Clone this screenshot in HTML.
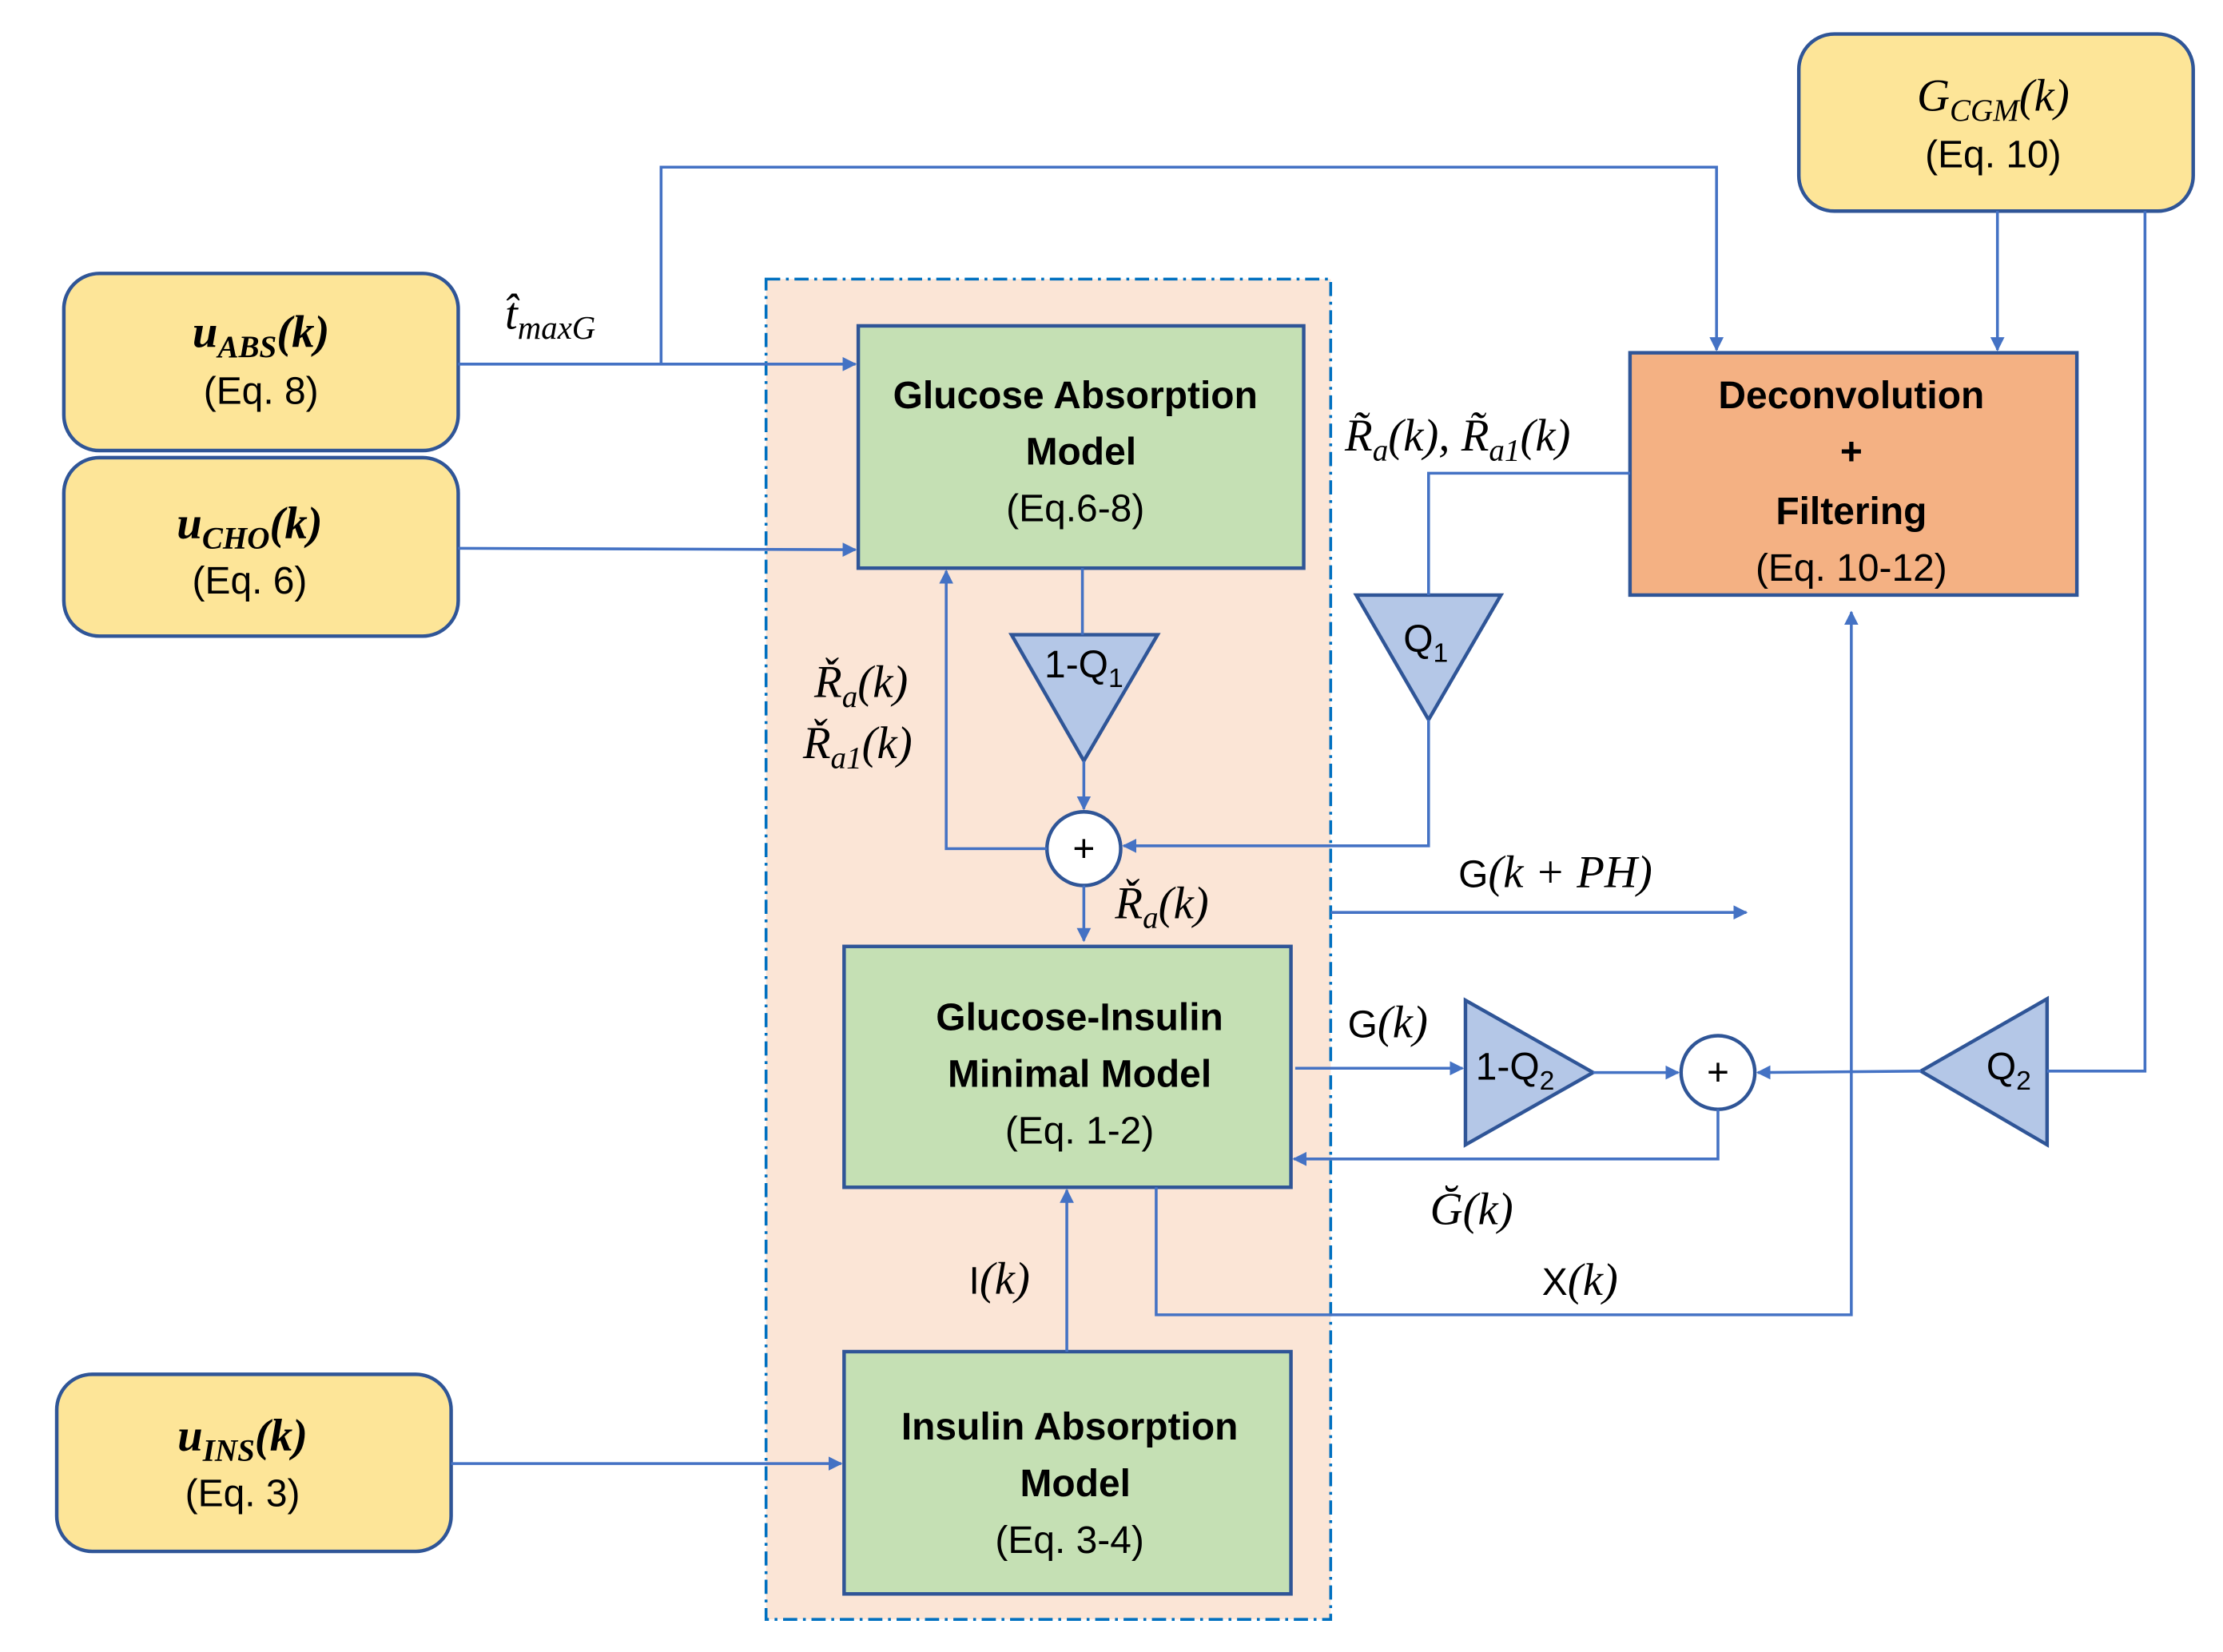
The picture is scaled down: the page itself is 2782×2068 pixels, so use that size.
<!DOCTYPE html>
<html><head><meta charset="utf-8"><style>
html,body{margin:0;padding:0;background:#fff;}
svg{display:block;}
.t{font-family:"Liberation Sans",sans-serif;font-size:27px;fill:#000;text-anchor:middle;}
.b{font-weight:bold;}
.m{font-family:"Liberation Serif",serif;font-style:italic;font-size:32px;fill:#000;}
.l{stroke:#4472C4;stroke-width:2;fill:none;}
</style></head><body>
<svg width="2782" height="2068" viewBox="0 0 1567 1166" preserveAspectRatio="none" xmlns="http://www.w3.org/2000/svg">
<defs><marker id="a" markerWidth="10" markerHeight="10" refX="9" refY="5" orient="auto" markerUnits="userSpaceOnUse"><path d="M0,0 L10,5 L0,10 z" fill="#4472C4"/></marker></defs>
<rect x="540" y="197" width="398" height="946" fill="#FBE5D6" stroke="#0070C0" stroke-width="2" stroke-dasharray="10,4,2,4"/>
<g fill="#FDE598" stroke="#2F5597" stroke-width="2.5">
<rect x="45" y="193" width="278" height="125" rx="25"/>
<rect x="45" y="323" width="278" height="126" rx="25"/>
<rect x="40" y="970" width="278" height="125" rx="25"/>
<rect x="1268" y="24" width="278" height="125" rx="25"/>
</g>
<g stroke="#2F5597" stroke-width="2.5">
<rect x="605" y="230" width="314" height="171" fill="#C5E0B4"/>
<rect x="595" y="668" width="315" height="170" fill="#C5E0B4"/>
<rect x="595" y="954" width="315" height="171" fill="#C5E0B4"/>
<rect x="1149" y="249" width="315" height="171" fill="#F4B183"/>
<g fill="#B4C7E7">
<path d="M713,448 L816,448 L764,537 z"/>
<path d="M956,420 L1058,420 L1007,508 z"/>
<path d="M1033,706 L1033,808 L1123,757 z"/>
<path d="M1443,705 L1443,808 L1354,756 z"/>
</g>
<circle cx="764" cy="599" r="26" fill="#fff"/>
<circle cx="1211" cy="757" r="26" fill="#fff"/>
</g>
<g class="l">
<path d="M323,257 L603,257" marker-end="url(#a)"/>
<path d="M466,257 L466,118 L1210,118 L1210,247" marker-end="url(#a)"/>
<path d="M323,387 L603,388" marker-end="url(#a)"/>
<path d="M1408,149 L1408,247" marker-end="url(#a)"/>
<path d="M1512,149 L1512,756 L1443,756"/>
<path d="M1354,756 L1239,757" marker-end="url(#a)"/>
<path d="M1123,757 L1183,757" marker-end="url(#a)"/>
<path d="M913,754 L1031,754" marker-end="url(#a)"/>
<path d="M1211,783 L1211,818 L912,818" marker-end="url(#a)"/>
<path d="M815,838 L815,928 L1305,928 L1305,432" marker-end="url(#a)"/>
<path d="M1149,334 L1007,334 L1007,420"/>
<path d="M1007,508 L1007,597 L792,597" marker-end="url(#a)"/>
<path d="M763,401 L763,448"/>
<path d="M764,537 L764,571" marker-end="url(#a)"/>
<path d="M738,599 L667,599 L667,403" marker-end="url(#a)"/>
<path d="M764,625 L764,664" marker-end="url(#a)"/>
<path d="M752,954 L752,840" marker-end="url(#a)"/>
<path d="M318,1033 L593,1033" marker-end="url(#a)"/>
<path d="M938,644 L1231,644" marker-end="url(#a)"/>
</g>
<text x="184" y="245" class="m" text-anchor="middle" font-weight="bold">u<tspan font-size="22" dy="7">ABS</tspan><tspan dy="-7">(k)</tspan></text>
<text x="184" y="285" class="t">(Eq. 8)</text>
<text x="176" y="380" class="m" text-anchor="middle" font-weight="bold">u<tspan font-size="22" dy="7">CHO</tspan><tspan dy="-7">(k)</tspan></text>
<text x="176" y="419" class="t">(Eq. 6)</text>
<text x="171" y="1024" class="m" text-anchor="middle" font-weight="bold">u<tspan font-size="22" dy="7">INS</tspan><tspan dy="-7">(k)</tspan></text>
<text x="171" y="1063" class="t">(Eq. 3)</text>
<text x="1405" y="78" class="m" text-anchor="middle">G<tspan font-size="22" dy="7">CGM</tspan><tspan dy="-7">(k)</tspan></text>
<text x="1405" y="118" class="t">(Eq. 10)</text>
<text x="758" y="288" class="t b">Glucose Absorption</text>
<text x="762" y="328" class="t b">Model</text>
<text x="758" y="368" class="t">(Eq.6-8)</text>
<text x="761" y="727" class="t b">Glucose-Insulin</text>
<text x="761" y="767" class="t b">Minimal Model</text>
<text x="761" y="807" class="t">(Eq. 1-2)</text>
<text x="754" y="1016" class="t b">Insulin Absorption</text>
<text x="758" y="1056" class="t b">Model</text>
<text x="754" y="1096" class="t">(Eq. 3-4)</text>
<text x="1305" y="288" class="t b">Deconvolution</text>
<text x="1305" y="328" class="t b">+</text>
<text x="1305" y="370" class="t b">Filtering</text>
<text x="1305" y="410" class="t">(Eq. 10-12)</text>
<text x="764" y="478" class="t" font-size="29">1-Q<tspan font-size="19" dy="7">1</tspan></text>
<text x="1005" y="460" class="t" font-size="29">Q<tspan font-size="19" dy="7">1</tspan></text>
<text x="1068" y="762" class="t" font-size="29">1-Q<tspan font-size="19" dy="7">2</tspan></text>
<text x="1416" y="762" class="t" font-size="29">Q<tspan font-size="19" dy="7">2</tspan></text>
<text x="764" y="608" class="t" font-size="24">+</text>
<text x="1211" y="766" class="t" font-size="24">+</text>
<text x="356" y="232" class="m">t̂<tspan font-size="23" dy="7">maxG</tspan></text>
<text x="948" y="318" class="m">R̃<tspan font-size="22" dy="7">a</tspan><tspan dy="-7">(k), R̃</tspan><tspan font-size="22" dy="7">a1</tspan><tspan dy="-7">(k)</tspan></text>
<text x="574" y="492" class="m">Ř<tspan font-size="22" dy="7">a</tspan><tspan dy="-7">(k)</tspan></text>
<text x="566" y="535" class="m">Ř<tspan font-size="22" dy="7">a1</tspan><tspan dy="-7">(k)</tspan></text>
<text x="786" y="648" class="m">Ř<tspan font-size="22" dy="7">a</tspan><tspan dy="-7">(k)</tspan></text>
<text x="1028" y="626" class="m"><tspan font-style="normal" font-family="Liberation Sans" font-size="27">G</tspan>(k + PH)</text>
<text x="950" y="732" class="m"><tspan font-style="normal" font-family="Liberation Sans" font-size="27">G</tspan>(k)</text>
<text x="1008" y="864" class="m">Ğ(k)</text>
<text x="1087" y="914" class="m"><tspan font-style="normal" font-family="Liberation Sans" font-size="27">X</tspan>(k)</text>
<text x="683" y="913" class="m"><tspan font-style="normal" font-family="Liberation Sans" font-size="27">I</tspan>(k)</text>
</svg>
</body></html>
